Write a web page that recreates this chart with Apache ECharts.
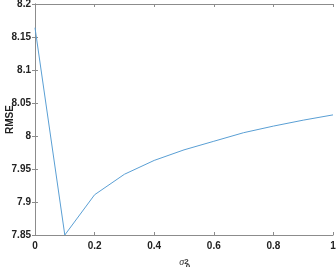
<!DOCTYPE html>
<html>
<head>
<meta charset="utf-8">
<script src="https://cdn.jsdelivr.net/npm/echarts@6/dist/echarts.min.js"></script>
<style>
  html, body { margin: 0; padding: 0; background: #fff; }
  #chart { width: 336px; height: 267px; }
</style>
</head>
<body>
<div id="chart"></div>
<script>
// sigma_0^2 values and RMSE
const sigma2 = [0, 0.1, 0.2, 0.3, 0.4, 0.5, 0.6, 0.7, 0.8, 0.9, 1.0];
const rmse = [8.164, 7.850, 7.911, 7.942, 7.963, 7.979, 7.992, 8.005, 8.015, 8.024, 8.032];

const axisColor = '#8c8c8c';
const labelFont = { color: '#222', fontSize: 10, fontWeight: 'bold', fontFamily: 'Liberation Sans, Arial, sans-serif' };

const chart = echarts.init(document.getElementById('chart'));

chart.setOption({
  animation: false,
  grid: { left: 35, right: 3, top: 4, bottom: 32, containLabel: false, outerBoundsMode: 'none' },
  xAxis: [{
    type: 'value',
    min: 0, max: 1, interval: 0.2,
    position: 'bottom',
    name: '{s|σ}{p|2}\n{b|0}',
    nameLocation: 'middle',
    nameGap: 23,
    nameMoveOverlap: false,
    nameTextStyle: {
      rich: {
        s: { fontSize: 10, fontStyle: 'italic', color: '#333', fontFamily: 'Liberation Serif, serif', lineHeight: 8 },
        p: { fontSize: 8, color: '#333', fontWeight: 'bold', lineHeight: 1, verticalAlign: 'top' },
        b: { fontSize: 8, color: '#333', fontWeight: 'bold', lineHeight: 1, padding: [0, 0, 0, 8] }
      }
    },
    axisLine: { lineStyle: { color: axisColor } },
    axisTick: { inside: true, length: 3, lineStyle: { color: axisColor } },
    axisLabel: Object.assign({ margin: 6, formatter: v => String(+v.toFixed(1)) }, labelFont),
    splitLine: { show: false }
  }, {
    type: 'value',
    min: 0, max: 1, interval: 0.2,
    position: 'top',
    axisLine: { lineStyle: { color: axisColor } },
    axisTick: { inside: true, length: 3, lineStyle: { color: axisColor } },
    axisLabel: { show: false },
    splitLine: { show: false }
  }],
  yAxis: [{
    type: 'value',
    min: 7.85, max: 8.2, interval: 0.05,
    position: 'left',
    name: 'RMSE',
    nameLocation: 'middle',
    nameGap: 20,
    nameMoveOverlap: false,
    nameTextStyle: labelFont,
    axisLine: { show: true, lineStyle: { color: axisColor } },
    axisTick: { show: true, inside: true, length: 3, lineStyle: { color: axisColor } },
    axisLabel: Object.assign({ margin: 4, formatter: v => String(+v.toFixed(2)) }, labelFont),
    splitLine: { show: false }
  }, {
    type: 'value',
    min: 7.85, max: 8.2, interval: 0.05,
    position: 'right',
    axisLine: { show: true, lineStyle: { color: axisColor } },
    axisTick: { show: true, inside: true, length: 3, lineStyle: { color: axisColor } },
    axisLabel: { show: false },
    splitLine: { show: false }
  }],
  series: [{
    type: 'line',
    data: sigma2.map((x, i) => [x, rmse[i]]),
    showSymbol: false,
    lineStyle: { color: '#5a9fd4', width: 1 }
  }]
});
</script>
</body>
</html>
